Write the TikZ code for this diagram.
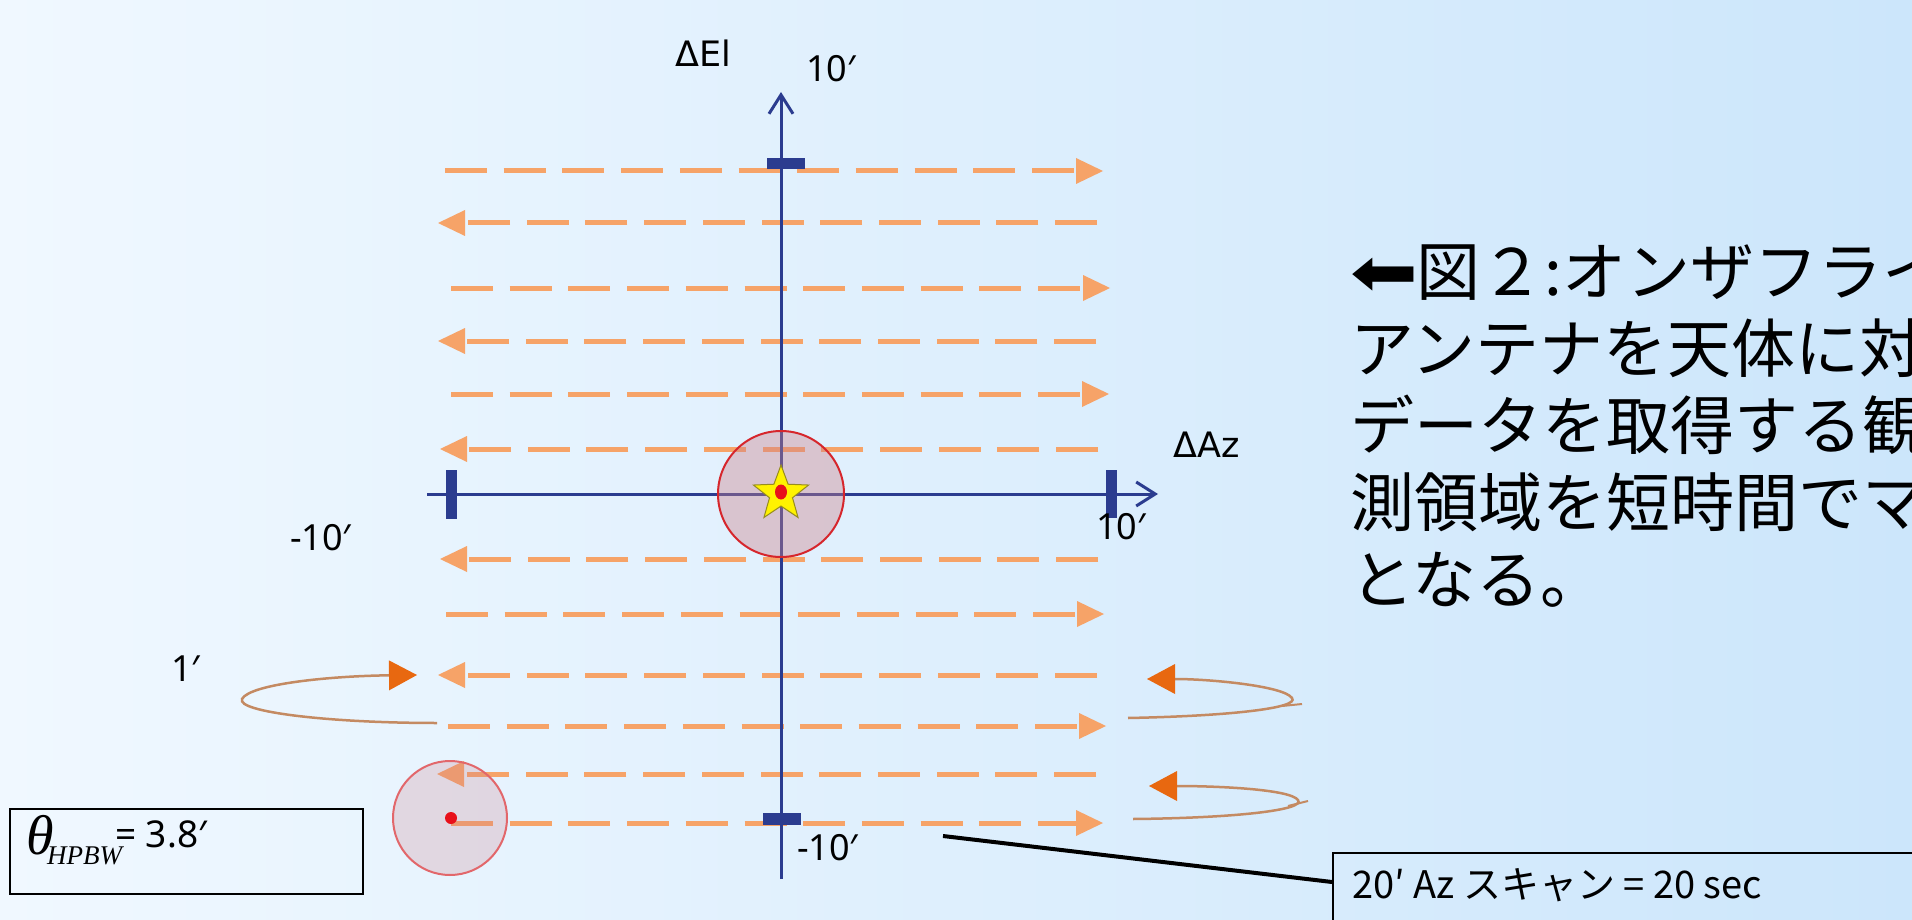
\documentclass[tikz,border=0pt]{standalone}
\usepackage{fontspec}
\setmainfont{Noto Sans}
\newfontfamily\jp{Noto Sans CJK JP}
\newfontfamily\dv{DejaVu Sans}
\newfontfamily\tms{Liberation Serif}
\usetikzlibrary{arrows.meta,shapes.geometric}
\definecolor{bgL}{RGB}{240,248,255}
\definecolor{bgR}{RGB}{204,230,251}
\definecolor{axisblue}{RGB}{43,60,143}
\definecolor{scan}{RGB}{246,163,104}
\definecolor{loopc}{RGB}{196,138,98}
\definecolor{tipc}{RGB}{232,104,16}
\definecolor{beamred}{RGB}{214,38,44}
\definecolor{beamfill}{RGB}{205,130,140}
\definecolor{staryellow}{RGB}{255,242,0}
\definecolor{starrim}{RGB}{150,140,30}
\definecolor{dotred}{RGB}{232,16,26}
\begin{document}
\begin{tikzpicture}[x=1pt,y=-1pt,
  scanrow/.style={draw=scan, line width=5pt, dash pattern=on 42pt off 16.7pt,
    -{Triangle[length=27pt,width=26pt,line width=0pt,color=scan]}},
  axisline/.style={draw=axisblue, line width=3pt, -{Straight Barb[length=19pt,width=24pt]}},
  tickmark/.style={rectangle, fill=axisblue, inner sep=0pt},
  turnline/.style={draw=loopc, line width=2.5pt,
    -{Triangle[length=28pt,width=30pt,line width=0pt,color=tipc]}},
  lbl/.style={anchor=base west, inner sep=0pt, font=\fontsize{36}{42}\selectfont},
  axlbl/.style={anchor=base west, inner sep=0pt, font=\dv\fontsize{35}{40}\selectfont},
  jpline/.style={anchor=base west, inner sep=0pt, font=\jp\fontsize{64}{77}\selectfont}]
\useasboundingbox (0,0) rectangle (1912,920);
\shade[left color=bgL,right color=bgR] (0,0) rectangle (1912,920);

% scan rows
\foreach \y/\a/\b in {171/445/1103, 288/451/1110, 394/451/1109, 614/446/1104, 726/448/1106, 823/451/1103}
  \draw[scanrow] (\a,\y) -- (\b,\y);
\foreach \y/\a/\b in {223/1097/438, 341/1096/438, 449/1098/440, 559/1098/440, 675/1097/438, 774/1096/437}
  \draw[scanrow] (\a,\y) -- (\b,\y);

% axes
\coordinate (vb) at (781,879);
\coordinate (vt) at (781,92);
\coordinate (hl) at (427,494);
\coordinate (hr) at (1158,494);
\draw[axisline] (vb) -- (vt);
\draw[axisline] (hl) -- (hr);

% ticks
\node[tickmark, minimum width=38pt, minimum height=11pt] (ttop) at (786,164) {};
\node[tickmark, minimum width=38pt, minimum height=12pt] (tbot) at (782,819) {};
\node[tickmark, minimum width=11pt, minimum height=49pt] (tleft) at (451,494) {};
\node[tickmark, minimum width=11pt, minimum height=48pt] (tright) at (1111,494) {};

% axis labels
\node[axlbl] (elab) at (675,67) {ΔEl};
\node[axlbl] (azlab) at (1173,457) {ΔAz};
\node[lbl] (ltop) at (806,82) {10′};
\node[lbl] (lright) at (1096,539) {10′};
\node[lbl] (lbot) at (797,860) {-10′};
\node[lbl] (lleft) at (290,550) {-10′};
\node[lbl] (lone) at (171,681) {1′};

% beams and source
\node[circle, minimum size=126pt, inner sep=0pt, draw=beamred, line width=2pt,
  fill=beamfill, fill opacity=0.4] (beam) at (781,494) {};
\node[star, star points=5, star point ratio=2.4, minimum size=58pt, inner sep=0pt,
  fill=staryellow, draw=starrim, line width=1pt] (src) at (781,494) {};
\node[ellipse, minimum width=12pt, minimum height=15pt, inner sep=0pt, fill=dotred] (srcdot) at (781,492) {};
\node[circle, minimum size=114pt, inner sep=0pt, draw=beamred!70, line width=2pt,
  fill=beamfill, fill opacity=0.25] (beam2) at (450,818) {};
\node[circle, minimum size=12pt, inner sep=0pt, fill=dotred] (beamdot) at (451,818) {};

% turn-around loops
\draw[turnline] (437,723) .. controls (330,723) and (236,712) .. (242,699)
  .. controls (250,684) and (330,676) .. (417,675);
\draw[turnline] (1128,718) .. controls (1230,716) and (1300,708) .. (1292,698)
  .. controls (1284,686) and (1210,679) .. (1147,679);
\draw[draw=loopc, line width=2pt] (1282,706) -- (1302,704);
\draw[turnline] (1133,819) .. controls (1235,818) and (1306,810) .. (1298,800)
  .. controls (1290,789) and (1215,786) .. (1149,786);
\draw[draw=loopc, line width=2pt] (1288,806) -- (1308,801);

% right text block
\node[jpline] (t1) at (1350,295) {\makebox[66pt][l]{\raisebox{0pt}{\scalebox{1.4}[1.15]{\dv\fontsize{58}{64}\selectfont ⬅}}}図２:オンザフライ};
\node[jpline] (t2) at (1350,372) {アンテナを天体に対};
\node[jpline] (t3) at (1350,449) {データを取得する観};
\node[jpline] (t4) at (1350,526) {測領域を短時間でマ};
\node[jpline] (t5) at (1350,603) {となる。};

% theta box
\node[draw=black, line width=1.5pt, anchor=north west, minimum width=353pt, minimum height=85pt, inner sep=0pt] (thbox) at (9,808) {};
\node[anchor=base west, inner sep=0pt, font=\tms\itshape\fontsize{56}{60}\selectfont] (theta) at (26,854) {θ};
\node[anchor=base west, inner sep=0pt, font=\tms\itshape\fontsize{27}{30}\selectfont] (hpbw) at (47,864) {HPBW};
\node[anchor=base west, inner sep=0pt, font=\fontsize{37}{40}\selectfont] (thval) at (115,847) {= 3.8′};

% callout
\node[draw=black, line width=2pt, anchor=north west, minimum width=700pt, minimum height=140pt, inner sep=0pt] (callbox) at (1332,852) {};
\node[anchor=base west, inner sep=0pt, font=\jp\fontsize{38}{46}\selectfont] (calltext) at (1352,898) {20′ Az スキャン = 20 sec};
\coordinate (callfrom) at (943,836);
\draw[line width=4pt] (callfrom) -- ([yshift=-30pt]callbox.north west);
\end{tikzpicture}
\end{document}
